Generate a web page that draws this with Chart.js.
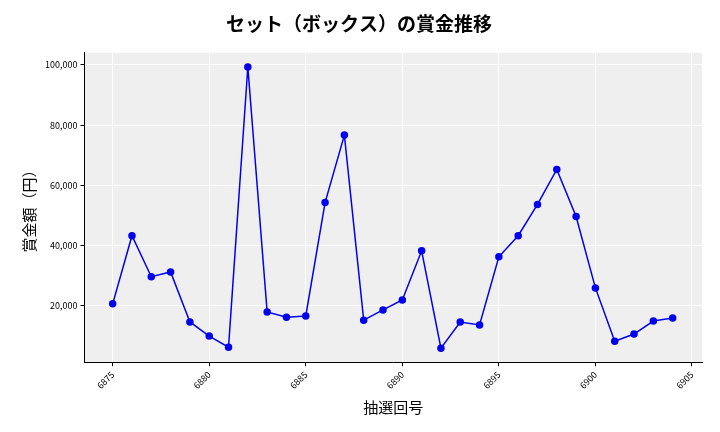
<!DOCTYPE html><html><head><meta charset="utf-8">
<script src="https://cdn.jsdelivr.net/npm/chart.js@4/dist/chart.umd.min.js"></script>
<style>body{margin:0;background:#fff}#w{width:720px;height:432px}</style></head><body><div id="w"><canvas id="c"></canvas></div>
<script>
const draws=[6875,6876,6877,6878,6879,6880,6881,6882,6883,6884,6885,6886,6887,6888,6889,6890,6891,6892,6893,6894,6895,6896,6897,6898,6899,6900,6901,6902,6903,6904];
const prizes=[20700,43300,29700,31300,14700,10000,6300,99300,18000,16300,16700,54300,76700,15300,18700,22000,38300,6000,14700,13700,36300,43300,53700,65300,49700,26000,8300,10700,15000,16000];
const xTicks=[6875,6880,6885,6890,6895,6900,6905];
const yTicks=[20000,40000,60000,80000,100000];
const F="'Noto Sans CJK JP'";
const bg={id:'bg',beforeDraw(c){const a=c.chartArea,x=c.ctx;x.save();x.fillStyle='#efefef';x.fillRect(a.left,a.top,a.right-a.left,a.bottom-a.top);x.restore();}};
new Chart(document.getElementById('c'),{type:'line',
data:{datasets:[{data:draws.map((d,i)=>({x:d,y:prizes[i]})),borderColor:'#0000ee',backgroundColor:'#0000ee',borderWidth:1.5,pointRadius:3,tension:0}]},
options:{responsive:true,maintainAspectRatio:false,animation:false,
layout:{padding:{left:16,right:18,top:6,bottom:12}},
plugins:{legend:{display:false},title:{display:true,text:'セット（ボックス）の賞金推移',font:{family:F,size:19,weight:'bold'},color:'#000',padding:{top:6,bottom:18}}},
scales:{
x:{type:'linear',min:6873.54,max:6905.52,afterBuildTicks:a=>{a.ticks=xTicks.map(v=>({value:v}))},
ticks:{maxRotation:45,minRotation:45,font:{family:F,size:9},color:'#000',callback:v=>String(v)},
grid:{color:'#fff',drawTicks:true,tickColor:'#000',tickLength:4},border:{color:'#000'},
title:{display:true,text:'抽選回号',font:{family:F,size:15},color:'#000'}},
y:{min:1333,max:104000,afterBuildTicks:a=>{a.ticks=yTicks.map(v=>({value:v}))},
ticks:{font:{family:F,size:9},color:'#000',callback:v=>v.toLocaleString('en-US')},
grid:{color:'#fff',tickColor:'#000',tickLength:4},border:{color:'#000'},
title:{display:true,text:'賞金額（円）',font:{family:F,size:15},color:'#000'}}}},
plugins:[bg]});
</script></body></html>
